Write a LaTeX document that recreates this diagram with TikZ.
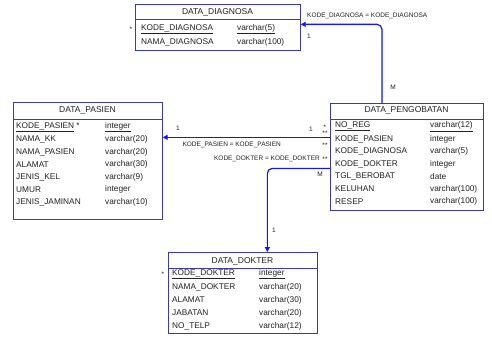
\documentclass[tikz,border=0pt]{standalone}
\usepackage{fontspec}
\setmainfont{Liberation Sans}
\usetikzlibrary{arrows.meta, positioning, calc}
\definecolor{tblcolor}{HTML}{3C3CA0}
\definecolor{relcolor}{HTML}{1414F0}
\definecolor{txtcolor}{HTML}{222222}

\begin{document}
\begin{tikzpicture}[x=1pt, y=-1pt,
    tbl/.style={draw=tblcolor, fill=white, line width=0.7pt, anchor=north west, inner sep=0pt},
    ttl/.style={text=txtcolor, font=\fontsize{8.5}{9}\selectfont, inner sep=0pt},
    fld/.style={text=txtcolor, font=\fontsize{8.3}{9}\selectfont, anchor=west, inner sep=0pt},
    lbl/.style={text=txtcolor, font=\fontsize{6.5}{7}\selectfont, inner sep=0pt},
    rel/.style={draw=relcolor, line width=1.2pt, rounded corners=5pt, -{Triangle[length=5pt, width=5pt]}},
  ]
  \useasboundingbox[fill=white] (0,0) rectangle (492,337);

  % tables
  \node[tbl, minimum width=165pt, minimum height=46pt] (diag) at (135,4) {};
  \node[tbl, minimum width=149pt, minimum height=117pt] (pasien) at (13,102) {};
  \node[tbl, minimum width=153pt, minimum height=107pt] (pengobatan) at (330,103) {};
  \node[tbl, minimum width=149pt, minimum height=81pt] (dokter) at (168,252) {};

  \draw[tblcolor, line width=0.7pt] (diag.west |- 0,19) -- (diag.east |- 0,19);
  \draw[tblcolor, line width=0.7pt] (pasien.west |- 0,119) -- (pasien.east |- 0,119);
  \draw[tblcolor, line width=0.7pt] (pengobatan.west |- 0,119) -- (pengobatan.east |- 0,119);
  \draw[tblcolor, line width=0.7pt] (dokter.west |- 0,268) -- (dokter.east |- 0,268);

  % DATA_DIAGNOSA
  \node[ttl] (diag-t) at (217.5,12) {DATA\_DIAGNOSA};
  \node[fld] (diag-k) at (141,29) {\underline{KODE\_DIAGNOSA}};
  \node[fld] (diag-kt) at (237,29) {\underline{varchar(5)}};
  \node[fld] (diag-n) at (141,42) {NAMA\_DIAGNOSA};
  \node[fld] (diag-nt) at (237,42) {varchar(100)};
  \node[lbl] (diag-s) at (131,29) {*};

  % DATA_PASIEN
  \node[ttl] (pasien-t) at (87.5,110) {DATA\_PASIEN};
  \node[fld] (pasien-k) at (16,127) {\underline{KODE\_PASIEN} *};
  \node[fld] (pasien-kt) at (105,127) {\underline{integer}};
  \foreach \n/\t [count=\i] in {NAMA\_KK/varchar(20), NAMA\_PASIEN/varchar(20),
      ALAMAT/varchar(30), JENIS\_KEL/varchar(9), UMUR/integer, JENIS\_JAMINAN/varchar(10)} {
    \node[fld] (pasien-\i) at (16,127+12.5*\i) {\n};
    \node[fld] (pasien-\i t) at (105,127+12.5*\i) {\t};
  }

  % DATA_PENGOBATAN
  \node[ttl] (pengobatan-t) at (406.5,110) {DATA\_PENGOBATAN};
  \node[fld] (pengobatan-k) at (335,126.5) {\underline{NO\_REG}};
  \node[fld] (pengobatan-kt) at (430,126.5) {\underline{varchar(12)}};
  \foreach \n/\t [count=\i] in {KODE\_PASIEN/integer, KODE\_DIAGNOSA/varchar(5),
      KODE\_DOKTER/integer, TGL\_BEROBAT/date, KELUHAN/varchar(100), RESEP/varchar(100)} {
    \node[fld] (pengobatan-\i) at (335,126.5+12.5*\i) {\n};
    \node[fld] (pengobatan-\i t) at (430,126.5+12.5*\i) {\t};
  }

  % DATA_DOKTER
  \node[ttl] (dokter-t) at (242.5,261) {DATA\_DOKTER};
  \node[fld] (dokter-k) at (172,274) {\underline{KODE\_DOKTER}};
  \node[fld] (dokter-kt) at (259,274) {\underline{integer}};
  \node[lbl] (dokter-s) at (163,274) {*};
  \foreach \n/\t [count=\i] in {NAMA\_DOKTER/varchar(20), ALAMAT/varchar(30),
      JABATAN/varchar(20), NO\_TELP/varchar(12)} {
    \node[fld] (dokter-\i) at (172,274+13*\i) {\n};
    \node[fld] (dokter-\i t) at (259,274+13*\i) {\t};
  }

  % relations
  \coordinate (dg) at ([xshift=52pt]pengobatan.north west);
  \draw[rel] (dg) |- ([yshift=3pt]diag.east);
  \coordinate (pp) at ([yshift=19.5pt]pengobatan.west);
  \draw[rel] (pp) -- (pp -| pasien.east);
  \coordinate (pd) at ([yshift=-11.5pt]pengobatan.west);
  \coordinate (dt) at ([xshift=24.5pt]dokter.north);
  \draw[rel] (pd) -| (dt);

  % relation labels
  \node[lbl, anchor=west] (dg-l) at (307,16) {KODE\_DIAGNOSA = KODE\_DIAGNOSA};
  \node[lbl] (dg-1) at (309,36) {1};
  \node[lbl] (dg-m) at (393,87) {M};
  \node[lbl] (pp-1a) at (178,128) {1};
  \node[lbl] (pp-1b) at (311,129) {1};
  \node[lbl] (pp-s) at (325,127) {*};
  \node[lbl] (pp-ss) at (325,133) {**};
  \node[lbl, anchor=east] (pp-l) at (281,145) {KODE\_PASIEN = KODE\_PASIEN};
  \node[lbl] (pp-s2) at (325,145) {**};
  \node[lbl, anchor=east] (pd-l) at (320,159) {KODE\_DOKTER = KODE\_DOKTER};
  \node[lbl] (pd-s) at (325,159) {**};
  \node[lbl] (pd-m) at (320,174) {M};
  \node[lbl] (pd-1) at (274,230) {1};
\end{tikzpicture}
\end{document}
